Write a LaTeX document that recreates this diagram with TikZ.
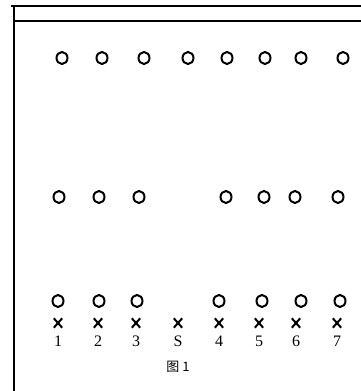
\documentclass[tikz,border=0pt]{standalone}
\usetikzlibrary{shapes.geometric}
\usepackage{fontspec}
\setmainfont{Liberation Serif}
\newfontfamily\cjk{Noto Sans CJK SC}
\begin{document}
\begin{tikzpicture}[x=1pt,y=-1pt,
  hole/.style={ellipse,draw,line width=2pt,minimum width=11pt,minimum height=12pt,inner sep=0pt},
  frameline/.style={line width=1.8pt},
  num/.style={font=\fontsize{16}{16}\selectfont,inner sep=0pt},
  xmark/.style={inner sep=0pt,minimum width=8pt,minimum height=9pt}]
\useasboundingbox (0,0) rectangle (361,391);
% frame
\coordinate (tl) at (11,6);
\coordinate (tr) at (361,6);
\coordinate (ml) at (14,21);
\coordinate (mr) at (361,21);
\coordinate (bl) at (14,391);
\draw[frameline] (tl) -- (tr);
\draw[frameline] (ml) -- (mr);
\draw[frameline] (14,6) -- (bl);
% top row
\foreach \x [count=\i] in {62,102,144,188,227,265,301,343}
  \node[hole] (t\i) at (\x,58) {};
% middle row
\foreach \x [count=\i] in {59,99,139,226,264,295,338}
  \node[hole] (m\i) at (\x,197) {};
% bottom row holes
\foreach \x [count=\i] in {58,99,137,219,262,301,340}
  \node[hole] (b\i) at (\x,301) {};
% crosses and labels
\foreach \x/\l [count=\i] in {58/1,98/2,136/3,178/S,219/4,259/5,296/6,337/7}{
  \node[xmark] (x\i) at (\x,323) {};
  \draw[line width=2pt] (x\i.north west) -- (x\i.south east) (x\i.north east) -- (x\i.south west);
  \node[num] (l\i) at (\x,341) {\l};
}
\node[font=\cjk\fontsize{13}{13}\selectfont,inner sep=0pt] (cap) at (178,367) {图\hspace{3pt}1};
\end{tikzpicture}
\end{document}
